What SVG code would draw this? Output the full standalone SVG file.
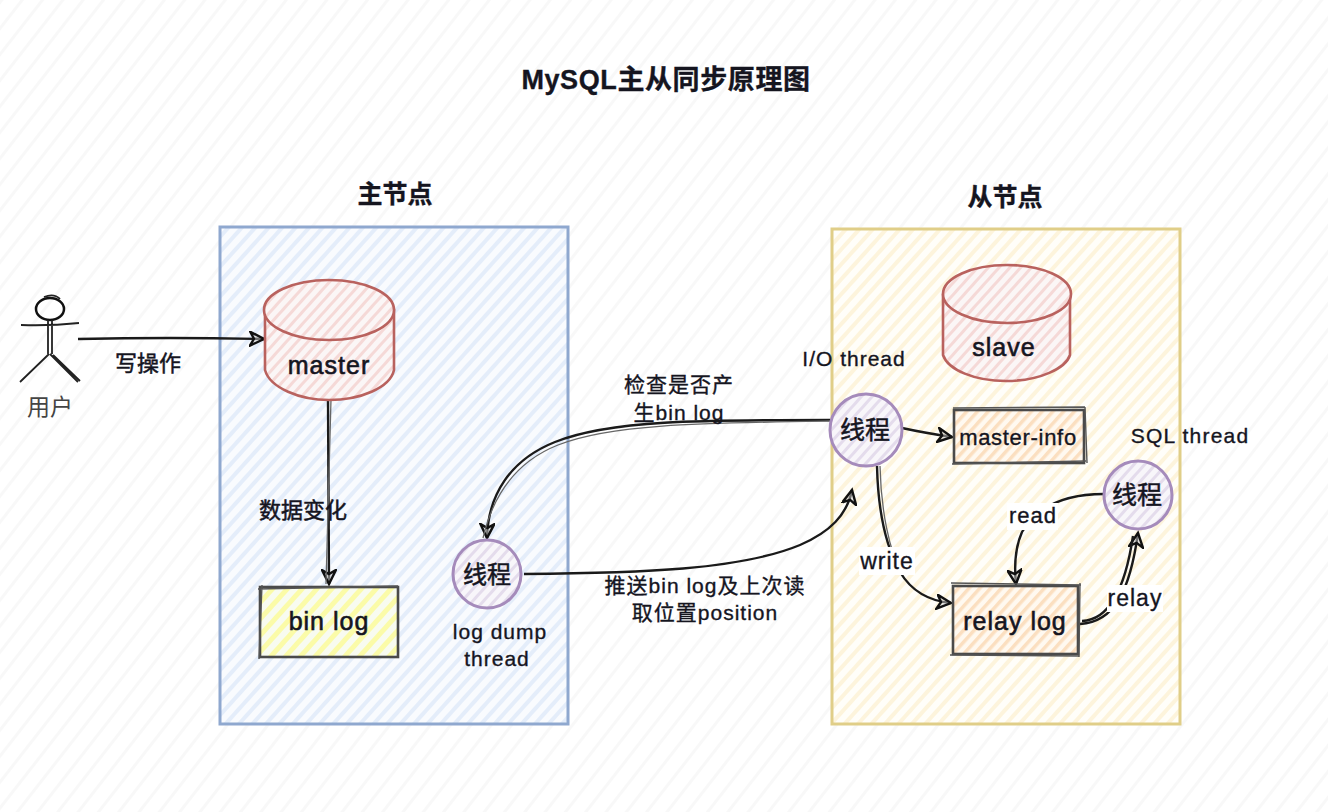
<svg xmlns="http://www.w3.org/2000/svg" width="1328" height="812" viewBox="0 0 1328 812">
<style>
text{font-family:"Liberation Sans","Noto Sans CJK SC",sans-serif;text-anchor:middle;fill:#15151f;stroke:#15151f;stroke-width:0.35}
.n{font-size:25px;letter-spacing:1px;stroke-width:0.6}
.l{font-size:21px;letter-spacing:1px}
.z{font-size:22px;stroke-width:0.5}
.thd{font-size:25px;stroke-width:0.5}
.c{fill:none;stroke:#1a1a1a;stroke-width:2.4}
.c2{fill:none;stroke:#666;stroke-width:1.3}
.box{stroke:#4a4a4a;stroke-width:2.6}
.ol{fill:none;stroke:#555;stroke-width:1.4}
.db{stroke:#b9625e;stroke-width:2.6}
.th{stroke:#a58bbb;stroke-width:3}
.lab{fill:#fff}
</style>
<defs>
<pattern id="hBg" width="16" height="16" patternUnits="userSpaceOnUse" patternTransform="rotate(-52)"><rect width="16" height="16" fill="#fff"/><rect width="16" height="3" fill="#f8f8f8"/></pattern>
<pattern id="hBlue" width="10" height="10" patternUnits="userSpaceOnUse" patternTransform="rotate(-48)"><rect width="10" height="10" fill="#f9fbfe"/><rect width="10" height="4" fill="#e4edfa"/></pattern>
<pattern id="hYel" width="10" height="10" patternUnits="userSpaceOnUse" patternTransform="rotate(-48)"><rect width="10" height="10" fill="#fffef9"/><rect width="10" height="4" fill="#fdf4dc"/></pattern>
<pattern id="hRed" width="8" height="8" patternUnits="userSpaceOnUse" patternTransform="rotate(-48)"><rect width="8" height="8" fill="#fbf6f6"/><rect width="8" height="3" fill="#f5d9d7"/></pattern>
<pattern id="hPur" width="8" height="8" patternUnits="userSpaceOnUse" patternTransform="rotate(-48)"><rect width="8" height="8" fill="#f8f6fa"/><rect width="8" height="3" fill="#e4dcec"/></pattern>
<pattern id="hOr" width="8" height="8" patternUnits="userSpaceOnUse" patternTransform="rotate(-48)"><rect width="8" height="8" fill="#fff9f0"/><rect width="8" height="3.5" fill="#fbdfc0"/></pattern>
<pattern id="hLem" width="11" height="11" patternUnits="userSpaceOnUse" patternTransform="rotate(-48)"><rect width="11" height="11" fill="#f8fbf0"/><rect width="11" height="5" fill="#fbfba8"/></pattern>
<marker id="arr" markerWidth="18" markerHeight="16" refX="15" refY="8" orient="auto" markerUnits="userSpaceOnUse"><path d="M1 1L15 8L1 15L5 8Z" fill="#ccc" fill-opacity="0.5" stroke="#111" stroke-width="2.4"/></marker>
</defs>
<rect id="background" width="1328" height="812" fill="url(#hBg)"/>
<text x="666" y="89" style="font-size:27px;font-weight:bold;letter-spacing:.6px">MySQL主从同步原理图</text>
<g id="master-zone"><rect x="220" y="227" width="348" height="497" fill="url(#hBlue)" stroke="#8fa8cf" stroke-width="3"/></g>
<g id="slave-zone"><rect x="832" y="229" width="348" height="495" fill="url(#hYel)" stroke="#e0ce88" stroke-width="3"/></g>
<text x="395" y="203" style="font-size:25px;font-weight:bold">主节点</text>
<text x="1005" y="206" style="font-size:25px;font-weight:bold">从节点</text>
<g id="connectors">
<path class="c" d="M78 339Q170 337 264 339" marker-end="url(#arr)"/>
<path class="c" d="M328 399L329 584" marker-end="url(#arr)"/>
<path class="c2" d="M331 399L326 584"/>
<path class="c" d="M830 420C700 420 610 420 555 442C510 460 488 495 487 538" marker-end="url(#arr)"/>
<path class="c2" d="M830 421C700 423 610 424 558 445C515 462 493 495 483 538"/>
<path class="c" d="M524 574C640 573 740 570 800 545C830 532 847 515 852 490" marker-end="url(#arr)"/>
<path class="c" d="M902 428Q925 433 952 437" marker-end="url(#arr)"/>
<path class="c" d="M877 466C878 510 885 545 900 572C912 592 930 601 951 603" marker-end="url(#arr)"/>
<path class="c2" d="M880 466C881 510 889 550 902 575"/>
<path class="c" d="M1104 494C1060 494 1035 510 1022 532C1015 548 1014 565 1016 584" marker-end="url(#arr)"/>
<path class="c" d="M1080 624C1115 622 1130 590 1138 533" marker-end="url(#arr)"/>
<path class="c" d="M1082 621C1108 620 1125 590 1133 536"/>
<rect class="lab" x="1007" y="503" width="51" height="27"/>
<text class="l" x="1033" y="523" style="font-size:22px">read</text>
<rect class="lab" x="859" y="547" width="56" height="28"/>
<text class="l" x="887" y="569" style="font-size:23px">write</text>
<rect class="lab" x="1107" y="585" width="56" height="27"/>
<text class="l" x="1135" y="606" style="font-size:23px">relay</text>
</g>
<g id="user">
<ellipse cx="50" cy="309" rx="14" ry="11" fill="none" stroke="#111" stroke-width="2.5"/>
<path d="M44 297Q54 293 60 299M21 325Q50 326 79 323M48 320V354M52 320V354M49 354L20 382M50 354L78 382M53 355L80 381" fill="none" stroke="#222" stroke-width="1.8"/>
<text x="50" y="415" style="font-size:23px;fill:#444;stroke:none">用户</text>
</g>
<text class="z" x="148" y="371">写操作</text>
<g id="master">
<path class="db" fill="url(#hRed)" d="M265 310V370C270 388 300 400 329 400C360 400 390 388 394 370V310Z"/>
<ellipse class="db" cx="329" cy="310" rx="65" ry="30" fill="url(#hRed)"/>
<text class="n" x="329" y="374">master</text>
</g>
<g id="slave">
<path class="db" fill="url(#hRed)" d="M943 295V355C948 370 975 381 1006 381C1040 381 1066 368 1070 355V295Z"/>
<ellipse class="db" cx="1007" cy="294" rx="64" ry="29" fill="url(#hRed)"/>
<text class="n" x="1004" y="356">slave</text>
</g>
<g id="binlog">
<rect x="260" y="587" width="138" height="70" fill="url(#hLem)" class="box"/>
<path class="ol" d="M258 589L398 586M262 585L259 659"/>
<text class="n" x="329" y="630">bin log</text>
</g>
<text class="z" x="303" y="518">数据变化</text>
<g id="dump-thread">
<circle class="th" cx="487" cy="574" r="34" fill="url(#hPur)"/>
<text class="thd" x="487" y="583" style="font-size:24px">线程</text>
</g>
<text class="l" x="500" y="639">log dump</text>
<text class="l" x="497" y="666">thread</text>
<g id="io-thread">
<circle class="th" cx="866" cy="430" r="36" fill="url(#hPur)"/>
<text class="thd" x="865" y="439">线程</text>
</g>
<text class="l" x="854" y="366">I/O thread</text>
<g id="master-info">
<rect x="954" y="410" width="130" height="53" fill="url(#hOr)" class="box"/>
<path class="ol" d="M953 408L1085 407M1085 407L1087 463M952 464L1086 461"/>
<text x="1018" y="445" style="font-size:22px;letter-spacing:.7px">master-info</text>
</g>
<text class="l" x="1190" y="443" style="letter-spacing:1.2px">SQL thread</text>
<g id="sql-thread">
<circle class="th" cx="1138" cy="495" r="34" fill="url(#hPur)"/>
<text class="thd" x="1137" y="504">线程</text>
</g>
<g id="relay-log">
<rect x="953" y="586" width="125" height="68" fill="url(#hOr)" class="box"/>
<path class="ol" d="M951 583L1081 585M1080 583L1079 657M950 655L1079 656"/>
<text class="n" x="1015" y="630">relay log</text>
</g>
<text class="l" x="679" y="392">检查是否产</text>
<text class="l" x="679" y="420">生bin log</text>
<text class="l" x="705" y="593">推送bin log及上次读</text>
<text class="l" x="705" y="620">取位置position</text>
</svg>
